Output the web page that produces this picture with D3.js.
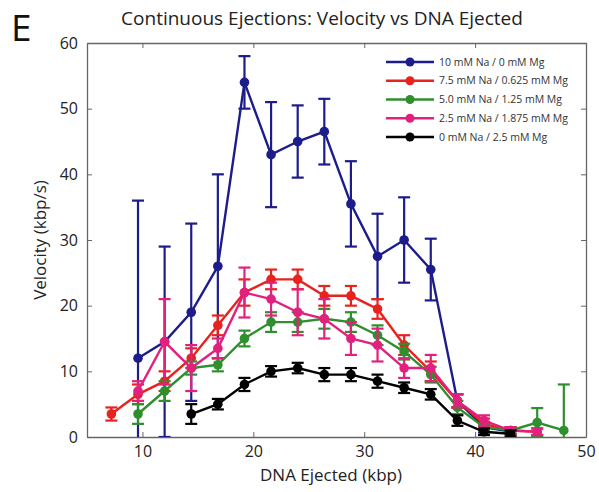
<!DOCTYPE html>
<html>
<head>
<meta charset="utf-8">
<script src="https://cdn.jsdelivr.net/npm/d3@7"></script>
<style>
  html, body { margin: 0; padding: 0; background: #fff; }
  svg { display: block; font-family: "Open Sans", Lato, sans-serif; }
</style>
</head>
<body>
<svg id="chart" width="599" height="492"></svg>
<script>
// DNA ejected (kbp) at which velocities were binned
const dnaEjected = [7.2, 9.6, 12.0, 14.4, 16.8, 19.2, 21.6, 24.0, 26.4, 28.8, 31.2, 33.6, 36.0, 38.4, 40.8, 43.2, 45.6, 48.0];

const seriesNames = [
  "10 mM Na / 0 mM Mg",
  "7.5 mM Na / 0.625 mM Mg",
  "5.0 mM Na / 1.25 mM Mg",
  "2.5 mM Na / 1.875 mM Mg",
  "0 mM Na / 2.5 mM Mg"
];
const seriesColors = ["#1c1c8a", "#e8221e", "#2f8f2f", "#e2207e", "#000000"];

// Mean velocity (kbp/s) for each buffer condition; null = no data
const velNa10 = [null, 12, 14.5, 19, 26, 54, 43, 45, 46.5, 35.5, 27.5, 30, 25.5, 5.5, 1.5, 0.8, null, null];
const velNa75 = [3.5, 6.5, 8.5, 12, 17, 22, 24, 24, 21.5, 21.5, 19.5, 14, 10, 5.5, 2, 1, 0.8, null];
const velNa50 = [null, 3.5, 7, 10.5, 11, 15, 17.5, 17.5, 18, 17.5, 15.5, 13, 9.5, 4.5, 1.5, 1, 2.2, 1];
const velNa25 = [null, 7, 14.5, 10.5, 13.5, 22, 21, 19, 18, 15, 14, 10.5, 10.5, 5.5, 2.5, 1, 0.8, null];
const velNa0  = [null, null, null, 3.5, 5, 8, 10, 10.5, 9.5, 9.5, 8.5, 7.5, 6.5, 2.5, 0.8, 0.5, null, null];

// Error bar half-widths (kbp/s)
const errNa10 = [null, 24, 14.5, 13.5, 14, 4, 8, 5.5, 5, 6.5, 6.5, 6.5, 4.7, 1, 0.8, 0.5, null, null];
const errNa75 = [1, 1.5, 1.5, 1.5, 1.5, 2, 1.5, 1.5, 1.5, 1.5, 1.5, 1.5, 1.5, 1, 0.8, 0.5, 0.5, null];
const errNa50 = [null, 1.5, 1.5, 1, 1, 1.2, 1.5, 1.5, 1.5, 1.5, 1.5, 1.2, 1.2, 1, 0.5, 0.5, 2.2, 7];
const errNa25 = [null, 1.5, 6.5, 3.5, 1.5, 3.8, 2.5, 3.5, 3, 2.5, 2.5, 1.5, 2, 1, 0.8, 0.5, 0.5, null];
const errNa0  = [null, null, null, 1.5, 0.8, 1, 0.8, 0.8, 1, 1, 1, 0.8, 0.8, 0.8, 0.5, 0.5, null, null];

const xTicks = [10, 20, 30, 40, 50];
const yTicks = [0, 10, 20, 30, 40, 50, 60];

const velocities = [velNa10, velNa75, velNa50, velNa25, velNa0];
const errors = [errNa10, errNa75, errNa50, errNa25, errNa0];

const svg = d3.select("#chart");
const margin = { left: 87, right: 13, top: 43, bottom: 55 };
const W = 599, H = 492;

const x = d3.scaleLinear().domain([5, 50]).range([margin.left, W - margin.right]);
const y = d3.scaleLinear().domain([0, 60]).range([H - margin.bottom, margin.top]);

svg.append("defs").append("clipPath").attr("id", "plotClip")
  .append("rect")
  .attr("x", x(5)).attr("y", y(60))
  .attr("width", x(50) - x(5)).attr("height", y(0) - y(60));

// Axes on all four sides, ticks pointing inward
const axisColor = "#666";
const bottomAxis = svg.append("g").attr("transform", `translate(0,${y(0)})`)
  .call(d3.axisBottom(x).tickValues(xTicks).tickSizeInner(-5).tickSizeOuter(0).tickPadding(9));
const topAxis = svg.append("g").attr("transform", `translate(0,${y(60)})`)
  .call(d3.axisTop(x).tickValues(xTicks).tickSizeInner(-5).tickSizeOuter(0).tickFormat(""));
const leftAxis = svg.append("g").attr("transform", `translate(${x(5)},0)`)
  .call(d3.axisLeft(y).tickValues(yTicks).tickSizeInner(-5).tickSizeOuter(0).tickPadding(9));
const rightAxis = svg.append("g").attr("transform", `translate(${x(50)},0)`)
  .call(d3.axisRight(y).tickValues(yTicks).tickSizeInner(-5).tickSizeOuter(0).tickFormat(""));

[bottomAxis, topAxis, leftAxis, rightAxis].forEach(g => {
  g.selectAll("path").attr("stroke", axisColor).attr("stroke-width", 1.3);
  g.selectAll("line").attr("stroke", axisColor).attr("stroke-width", 1);
  g.selectAll("text").attr("fill", "#222").style("font-size", "16px")
    .style("font-family", "'Open Sans', Lato, sans-serif");
});

const plot = svg.append("g").attr("clip-path", "url(#plotClip)");

const line = d3.line()
  .defined(d => d.v !== null)
  .x(d => x(d.x)).y(d => y(d.v));

velocities.forEach((vals, si) => {
  const color = seriesColors[si];
  const pts = dnaEjected.map((xv, i) => ({ x: xv, v: vals[i], e: errors[si][i] }));
  const valid = pts.filter(d => d.v !== null);
  const g = plot.append("g");

  g.append("path").datum(pts)
    .attr("d", line)
    .attr("fill", "none")
    .attr("stroke", color)
    .attr("stroke-width", 2.4);

  const cap = 6;
  const bars = g.selectAll(".err").data(valid.filter(d => d.e)).enter().append("g");
  bars.append("line")
    .attr("x1", d => x(d.x)).attr("x2", d => x(d.x))
    .attr("y1", d => y(d.v - d.e)).attr("y2", d => y(d.v + d.e))
    .attr("stroke", color).attr("stroke-width", 2.2);
  bars.append("line")
    .attr("x1", d => x(d.x) - cap).attr("x2", d => x(d.x) + cap)
    .attr("y1", d => y(d.v + d.e)).attr("y2", d => y(d.v + d.e))
    .attr("stroke", color).attr("stroke-width", 2.2);
  bars.append("line")
    .attr("x1", d => x(d.x) - cap).attr("x2", d => x(d.x) + cap)
    .attr("y1", d => y(d.v - d.e)).attr("y2", d => y(d.v - d.e))
    .attr("stroke", color).attr("stroke-width", 2.2);

  g.selectAll("circle").data(valid).enter().append("circle")
    .attr("cx", d => x(d.x)).attr("cy", d => y(d.v))
    .attr("r", 4.8)
    .attr("fill", color);
});

// Legend
const legend = svg.append("g").attr("transform", "translate(386,62)");
seriesNames.forEach((name, i) => {
  const row = legend.append("g").attr("transform", `translate(0,${i * 18.75})`);
  row.append("line").attr("x1", 0).attr("x2", 48).attr("y1", 0).attr("y2", 0)
    .attr("stroke", seriesColors[i]).attr("stroke-width", 2.4);
  row.append("circle").attr("cx", 24).attr("cy", 0).attr("r", 4.5).attr("fill", seriesColors[i]);
  row.append("text").attr("x", 53).attr("y", 3.5)
    .style("font-size", "10.5px").attr("fill", "#333").text(name);
});

// Titles and labels
svg.append("text").attr("x", 11).attr("y", 41)
  .style("font-size", "37px").attr("fill", "#111").text("E");

svg.append("text").attr("x", 322).attr("y", 25)
  .attr("text-anchor", "middle").style("font-size", "19px").attr("fill", "#222")
  .text("Continuous Ejections: Velocity vs DNA Ejected");

svg.append("text").attr("x", 331).attr("y", 481)
  .attr("text-anchor", "middle").style("font-size", "17px").attr("fill", "#222")
  .text("DNA Ejected (kbp)");

svg.append("text")
  .attr("transform", `translate(46,${(y(0) + y(60)) / 2}) rotate(-90)`)
  .attr("text-anchor", "middle").style("font-size", "17px").attr("fill", "#222")
  .text("Velocity (kbp/s)");
</script>
</body>
</html>
